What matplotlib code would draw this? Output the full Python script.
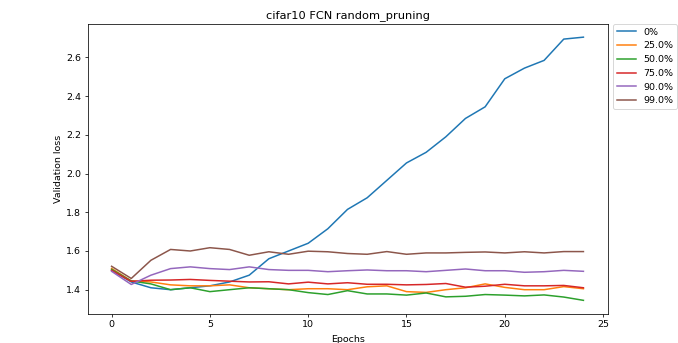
import matplotlib
matplotlib.use("Agg")
import matplotlib.pyplot as plt
import numpy as np

epochs = list(range(25))
labels = ["0%", "25.0%", "50.0%", "75.0%", "90.0%", "99.0%"]

loss_0 = [1.50, 1.44, 1.41, 1.40, 1.41, 1.42, 1.44, 1.475, 1.56, 1.60, 1.64, 1.715, 1.815,
          1.875, 1.965, 2.055, 2.11, 2.19, 2.285, 2.345, 2.49, 2.545, 2.585, 2.695, 2.705]
loss_25 = [1.51, 1.445, 1.44, 1.425, 1.42, 1.42, 1.425, 1.41, 1.405, 1.40, 1.405, 1.405, 1.40,
           1.415, 1.42, 1.39, 1.386, 1.40, 1.41, 1.43, 1.412, 1.40, 1.40, 1.416, 1.405]
loss_50 = [1.505, 1.445, 1.43, 1.40, 1.41, 1.39, 1.40, 1.41, 1.405, 1.40, 1.385, 1.375, 1.395,
           1.378, 1.378, 1.372, 1.383, 1.363, 1.366, 1.375, 1.372, 1.368, 1.373, 1.362, 1.345]
loss_75 = [1.50, 1.443, 1.449, 1.45, 1.453, 1.448, 1.444, 1.44, 1.441, 1.43, 1.439, 1.43, 1.436,
           1.428, 1.428, 1.425, 1.427, 1.432, 1.413, 1.418, 1.428, 1.42, 1.42, 1.422, 1.41]
loss_90 = [1.495, 1.427, 1.475, 1.509, 1.518, 1.509, 1.504, 1.518, 1.504, 1.50, 1.50, 1.493, 1.498,
           1.502, 1.498, 1.498, 1.493, 1.50, 1.507, 1.498, 1.498, 1.49, 1.493, 1.50, 1.495]
loss_99 = [1.521, 1.458, 1.552, 1.608, 1.60, 1.617, 1.608, 1.578, 1.596, 1.583, 1.599, 1.596, 1.587,
           1.583, 1.597, 1.583, 1.59, 1.59, 1.593, 1.595, 1.59, 1.596, 1.59, 1.597, 1.597]

series = [loss_0, loss_25, loss_50, loss_75, loss_90, loss_99]

fig = plt.figure(figsize=(678 / 68, 343 / 68), dpi=68)
ax = fig.add_axes([88 / 678, 1 - 313.5 / 343, (608 - 88) / 678, (313.5 - 24) / 343])
for vals, lab in zip(series, labels):
    ax.plot(epochs, vals, label=lab, linewidth=1.6)

ax.set_xlim(-1.2, 25.25)
ax.set_title("cifar10 FCN random_pruning")
ax.set_xlabel("Epochs", labelpad=6)
ax.set_ylabel("Validation loss")
ax.legend(loc="upper left", bbox_to_anchor=(1.01, 1.0), borderaxespad=0)

fig.savefig("out.png", dpi=68)
